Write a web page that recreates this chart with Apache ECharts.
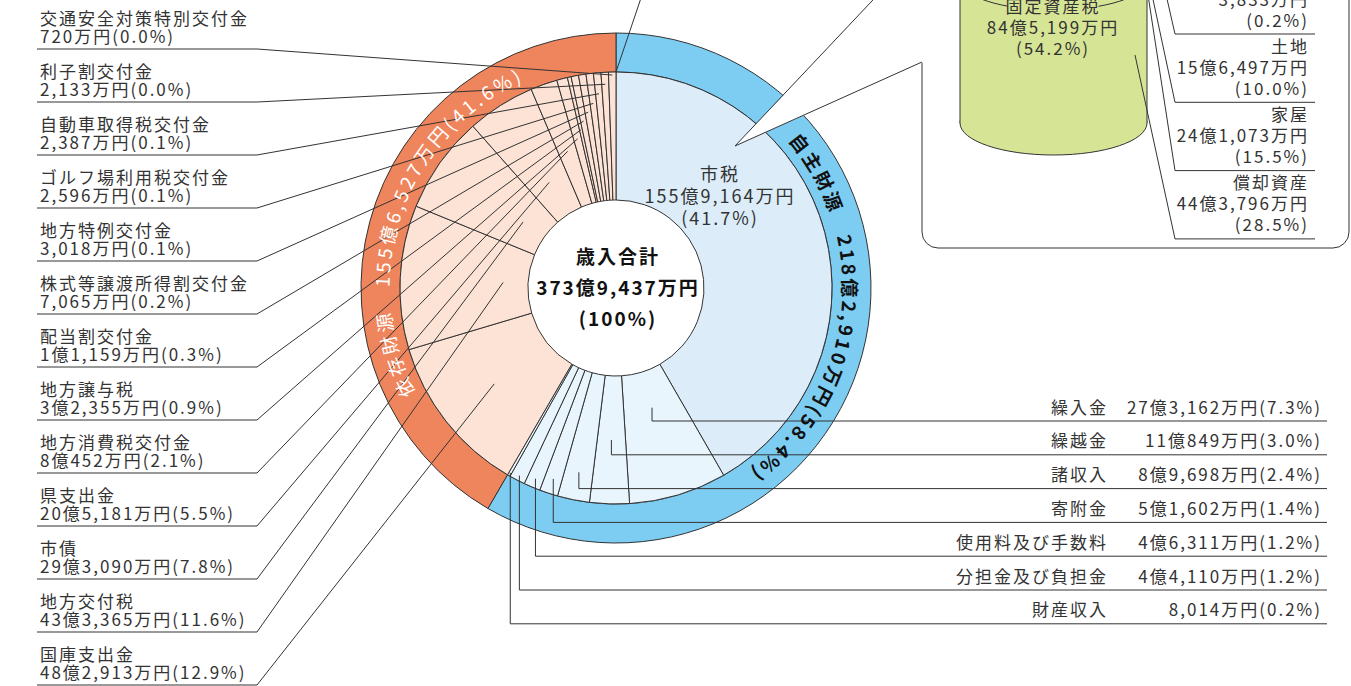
<!DOCTYPE html>
<html><head><meta charset="utf-8">
<script src="https://cdn.jsdelivr.net/npm/echarts@6/dist/echarts.min.js"></script>
<style>
html,body{margin:0;padding:0;background:#fff;}
#chart{width:1351px;height:686px;}
#chart text{letter-spacing:2px;}
</style></head>
<body><div id="chart"></div>
<script>
// ---------- data (amounts in 万円) ----------
const ownNames = ['市税','繰入金','繰越金','諸収入','寄附金','使用料及び手数料','分担金及び負担金','財産収入'];
const ownValues = [1559164, 273162, 110849, 89698, 51602, 46311, 44110, 8014];
const ownPct = ['41.7%','7.3%','3.0%','2.4%','1.4%','1.2%','1.2%','0.2%'];

const depNames = ['国庫支出金','地方交付税','市債','県支出金','地方消費税交付金','地方譲与税','配当割交付金','株式等譲渡所得割交付金','地方特例交付金','ゴルフ場利用税交付金','自動車取得税交付金','利子割交付金','交通安全対策特別交付金'];
const depValues = [482913, 433365, 293090, 205181, 80452, 32355, 11159, 7065, 3018, 2596, 2387, 2133, 720];
const depPct = ['12.9%','11.6%','7.8%','5.5%','2.1%','0.9%','0.3%','0.2%','0.1%','0.1%','0.1%','0.0%','0.0%'];

const groupNames = ['自主財源','依存財源'];
const groupValues = [2182910, 1556527];
const groupPct = ['58.4%','41.6%'];

const totalTitle = '歳入合計';
const totalValue = 3739437;
const totalPct = '100%';

const fixedName = '固定資産税';
const fixedValue = 845199;
const fixedPct = '54.2%';
const fixedItemNames = ['', '土地', '家屋', '償却資産'];
const fixedItemValues = [3833, 156497, 241073, 443796];
const fixedItemPct = ['0.2%', '10.0%', '15.5%', '28.5%'];

// ---------- layout ----------
const FONT = "'Noto Sans CJK JP', sans-serif";
const CX = 616, CY = 288, R0 = 88, R1 = 216, R2 = 255;
const LEFT_X = 40, LEFT_Y0 = 49, LEFT_STEP = 53, LEFT_BEND = 257, LEFT_END = 37;
const leftAnchorR = [213, 204, 195, 186, 178, 170, 162, 154, 145, 125, 114, 113, 155];
const RIGHT_X = 1322, RIGHT_Y0 = 421, RIGHT_STEP = 33.8, RIGHT_END = 1327;
const rightAnchorR = [0, 125, 152, 188, 201, 207, 211, 213];

function fmt(v){
  const oku = Math.floor(v / 10000), man = v % 10000;
  const m = man.toLocaleString('en-US');
  return (oku ? oku + '億' + m : m) + '万円';
}
function anchor(pts, r){
  if (!pts || !pts[0]) return [CX, CY];
  const dx = pts[0][0] - CX, dy = pts[0][1] - CY, d = Math.hypot(dx, dy) || 1;
  return [CX + dx / d * r, CY + dy / d * r];
}

const ownShare = groupValues[0] / (groupValues[0] + groupValues[1]);
const splitAngle = 90 - 360 * ownShare;

// ---------- curved ring text ----------
const measCtx = document.createElement('canvas').getContext('2d');
function arcText(str, a0, a1, r, font, fill){
  measCtx.font = font;
  const chars = Array.from(str);
  const w = chars.map(c => measCtx.measureText(c).width);
  const centers = []; let acc = 0;
  for (let i = 0; i < chars.length; i++){ centers.push(acc + w[i] / 2); acc += w[i]; }
  const n = chars.length;
  const natural = centers[n - 1] - centers[0];
  const target = (a1 - a0) * Math.PI / 180 * r;
  const extra = (target - natural) / (n - 1);
  return chars.map((c, i) => {
    const s = centers[i] - centers[0] + extra * i;
    const th = a0 * Math.PI / 180 + s / r;
    return {type:'text', x: CX + r * Math.sin(th), y: CY - r * Math.cos(th), rotation: -th, silent:true, z:100,
      style:{text:c, font:font, fill:fill, align:'center', verticalAlign:'middle'}};
  });
}

const graphics = [];
graphics.push(...arcText(groupNames[0] + '　' + fmt(groupValues[0]) + '(' + groupPct[0] + ')', 52, 143, 235, 'bold 19px ' + FONT, '#111'));
graphics.push(...arcText(groupNames[1] + '　' + fmt(groupValues[1]) + '(' + groupPct[1] + ')', 245, 335, 235, '19px ' + FONT, '#fff'));

// center total
graphics.push({type:'text', x: 618, y: 286, silent:true, z:100,
  style:{text: totalTitle + '\n' + fmt(totalValue) + '\n(' + totalPct + ')', font:'bold 19px ' + FONT, lineHeight:31,
    fill:'#111', align:'center', verticalAlign:'middle'}});

// leader line going to a label above the picture
graphics.push({type:'polyline', silent:true, z:40, shape:{points:[[641,-2],[616,72]]}, style:{stroke:'#333', lineWidth:1, fill:null}});

// callout box
graphics.push({type:'rect', silent:true, z:50, shape:{x:922, y:-120, width:427, height:368, r:16}, style:{fill:'#fff', stroke:'#333', lineWidth:1}});
graphics.push({type:'polygon', silent:true, z:51, shape:{points:[[735,146],[924,-52],[924,62]]}, style:{fill:'#fff', stroke:null}});
graphics.push({type:'polyline', silent:true, z:52, shape:{points:[[922,-52],[735,146],[922,62]]}, style:{stroke:'#333', lineWidth:1, fill:null}});

// cylinder
const CYL = '#d6e496';
graphics.push({type:'ellipse', silent:true, z:53, shape:{cx:1053.5, cy:123, rx:93.5, ry:32}, style:{fill:CYL, stroke:'#333', lineWidth:1}});
graphics.push({type:'rect', silent:true, z:54, shape:{x:960, y:-80, width:187, height:203}, style:{fill:CYL, stroke:null}});
graphics.push({type:'polyline', silent:true, z:55, shape:{points:[[960,-80],[960,123]]}, style:{stroke:'#333', lineWidth:1, fill:null}});
graphics.push({type:'polyline', silent:true, z:55, shape:{points:[[1147,-80],[1147,123]]}, style:{stroke:'#333', lineWidth:1, fill:null}});
graphics.push({type:'ellipse', silent:true, z:55, shape:{cx:1053.5, cy:-20, rx:93.5, ry:30}, style:{fill:CYL, stroke:'#333', lineWidth:1}});
graphics.push({type:'text', silent:true, z:56, x:1053, y:5, style:{text:fixedName, font:'17px ' + FONT, fill:'#333', align:'center', verticalAlign:'middle', backgroundColor:CYL, padding:[0,3]}});
graphics.push({type:'text', silent:true, z:56, x:1053, y:26, style:{text:fmt(fixedValue), font:'17px ' + FONT, fill:'#333', align:'center', verticalAlign:'middle'}});
graphics.push({type:'text', silent:true, z:56, x:1053, y:47, style:{text:'(' + fixedPct + ')', font:'17px ' + FONT, fill:'#333', align:'center', verticalAlign:'middle'}});

// breakdown labels
const boxStarts = [[1165,-10],[1151,-10],[1148,-5],[1135,55]];
fixedItemNames.forEach((nm, k) => {
  const yL = 34 + 68.3 * k;
  graphics.push({type:'polyline', silent:true, z:57, shape:{points:[boxStarts[k],[1175,yL],[1315,yL]]}, style:{stroke:'#333', lineWidth:1, fill:null}});
  const lines = [[nm, yL - 57], [fmt(fixedItemValues[k]), yL - 36], ['(' + fixedItemPct[k] + ')', yL - 15]];
  lines.forEach(([t, y]) => {
    if (!t) return;
    graphics.push({type:'text', silent:true, z:57, x:1309, y:y, style:{text:t, font:'17px ' + FONT, fill:'#333', align:'right', verticalAlign:'middle'}});
  });
});

const labelBase = {show:true, fontFamily:FONT, fontSize:17, color:'#333', lineHeight:18};
const lineStyle = {color:'#333', width:1};
const CLEAR = 'rgba(0,0,0,0)';

const ownData = ownNames.map((n, i) => ({name:n, value:ownValues[i]}));
const depData = depNames.map((n, i) => ({name:n, value:depValues[i]}));

const ownPie = {type:'pie', silent:true, center:[CX, CY], radius:[R0, R1], startAngle:90, endAngle:splitAngle, clockwise:true, avoidLabelOverlap:false};
const depPie = {type:'pie', silent:true, center:[CX, CY], radius:[R0, R1], startAngle:splitAngle, endAngle:-270, clockwise:true, minAngle:2, avoidLabelOverlap:false};

const option = {
  animation:false,
  backgroundColor:'#fff',
  graphic:{elements:graphics},
  series:[
    // outer ring
    { type:'pie', z:1, silent:true, center:[CX, CY], radius:[R1, R2], startAngle:90, clockwise:true,
      avoidLabelOverlap:false, label:{show:false}, labelLine:{show:false},
      itemStyle:{borderColor:'#333', borderWidth:1},
      data: groupNames.map((n, i) => ({name:n, value:groupValues[i], itemStyle:{color:['#7dcdf3','#ef855c'][i]}}))
    },
    // visible inner slices
    Object.assign({}, ownPie, { z:2, label:{show:false}, labelLine:{show:false},
      itemStyle:{borderColor:'#333', borderWidth:1},
      data: ownData.map((d, i) => Object.assign({}, d, {itemStyle:{color: i === 0 ? '#dcedf9' : '#e8f5fc'}}))
    }),
    Object.assign({}, depPie, { z:2, label:{show:false}, labelLine:{show:false},
      itemStyle:{borderColor:'#333', borderWidth:1, color:'#fce3d6'},
      data: depData
    }),
    // label layers (same slices, transparent) so leader lines sit above every slice
    Object.assign({}, ownPie, { z:5,
      itemStyle:{color:CLEAR, borderWidth:0},
      label: Object.assign({}, labelBase, {
        lineHeight:20,
        formatter: p => p.dataIndex === 0
          ? p.name + '\n' + fmt(p.value) + '\n(' + ownPct[0] + ')'
          : '{n|' + p.name + '}{v|' + fmt(p.value) + '(' + ownPct[p.dataIndex] + ')}',
        rich:{
          n:{width:300, align:'right', fontFamily:FONT, fontSize:17, color:'#333', lineHeight:20},
          v:{width:214, align:'right', fontFamily:FONT, fontSize:17, color:'#333', lineHeight:20}
        }
      }),
      labelLine:{show:true, length:10, length2:10, lineStyle:lineStyle},
      labelLayout: function(p){
        if (p.dataIndex === 0) return {x:720, y:195, align:'center', verticalAlign:'middle'};
        const k = p.dataIndex - 1;
        const yL = RIGHT_Y0 + RIGHT_STEP * k;
        const a = anchor(p.labelLinePoints, rightAnchorR[p.dataIndex]);
        return {x:RIGHT_X, y:yL - 5, align:'right', verticalAlign:'bottom',
          labelLinePoints:[a, [a[0], yL], [RIGHT_END, yL]]};
      },
      data: ownData.map((d, i) => i === 0
        ? Object.assign({}, d, {labelLine:{show:false}, label:{fontSize:18, lineHeight:22}})
        : d)
    }),
    Object.assign({}, depPie, { z:5,
      itemStyle:{color:CLEAR, borderWidth:0},
      label: Object.assign({}, labelBase, {
        formatter: p => p.name + '\n' + fmt(p.value) + '(' + depPct[p.dataIndex] + ')'
      }),
      labelLine:{show:true, length:10, length2:10, lineStyle:lineStyle},
      labelLayout: function(p){
        const k = depNames.length - 1 - p.dataIndex;
        const yL = LEFT_Y0 + LEFT_STEP * k;
        const a = anchor(p.labelLinePoints, leftAnchorR[k]);
        return {x:LEFT_X, y:yL - 5, align:'left', verticalAlign:'bottom',
          labelLinePoints:[a, [LEFT_BEND, yL], [LEFT_END, yL]]};
      },
      data: depData
    })
  ]
};

const chart = echarts.init(document.getElementById('chart'), null, {renderer:'svg'});
chart.setOption(option);
</script>
</body></html>
